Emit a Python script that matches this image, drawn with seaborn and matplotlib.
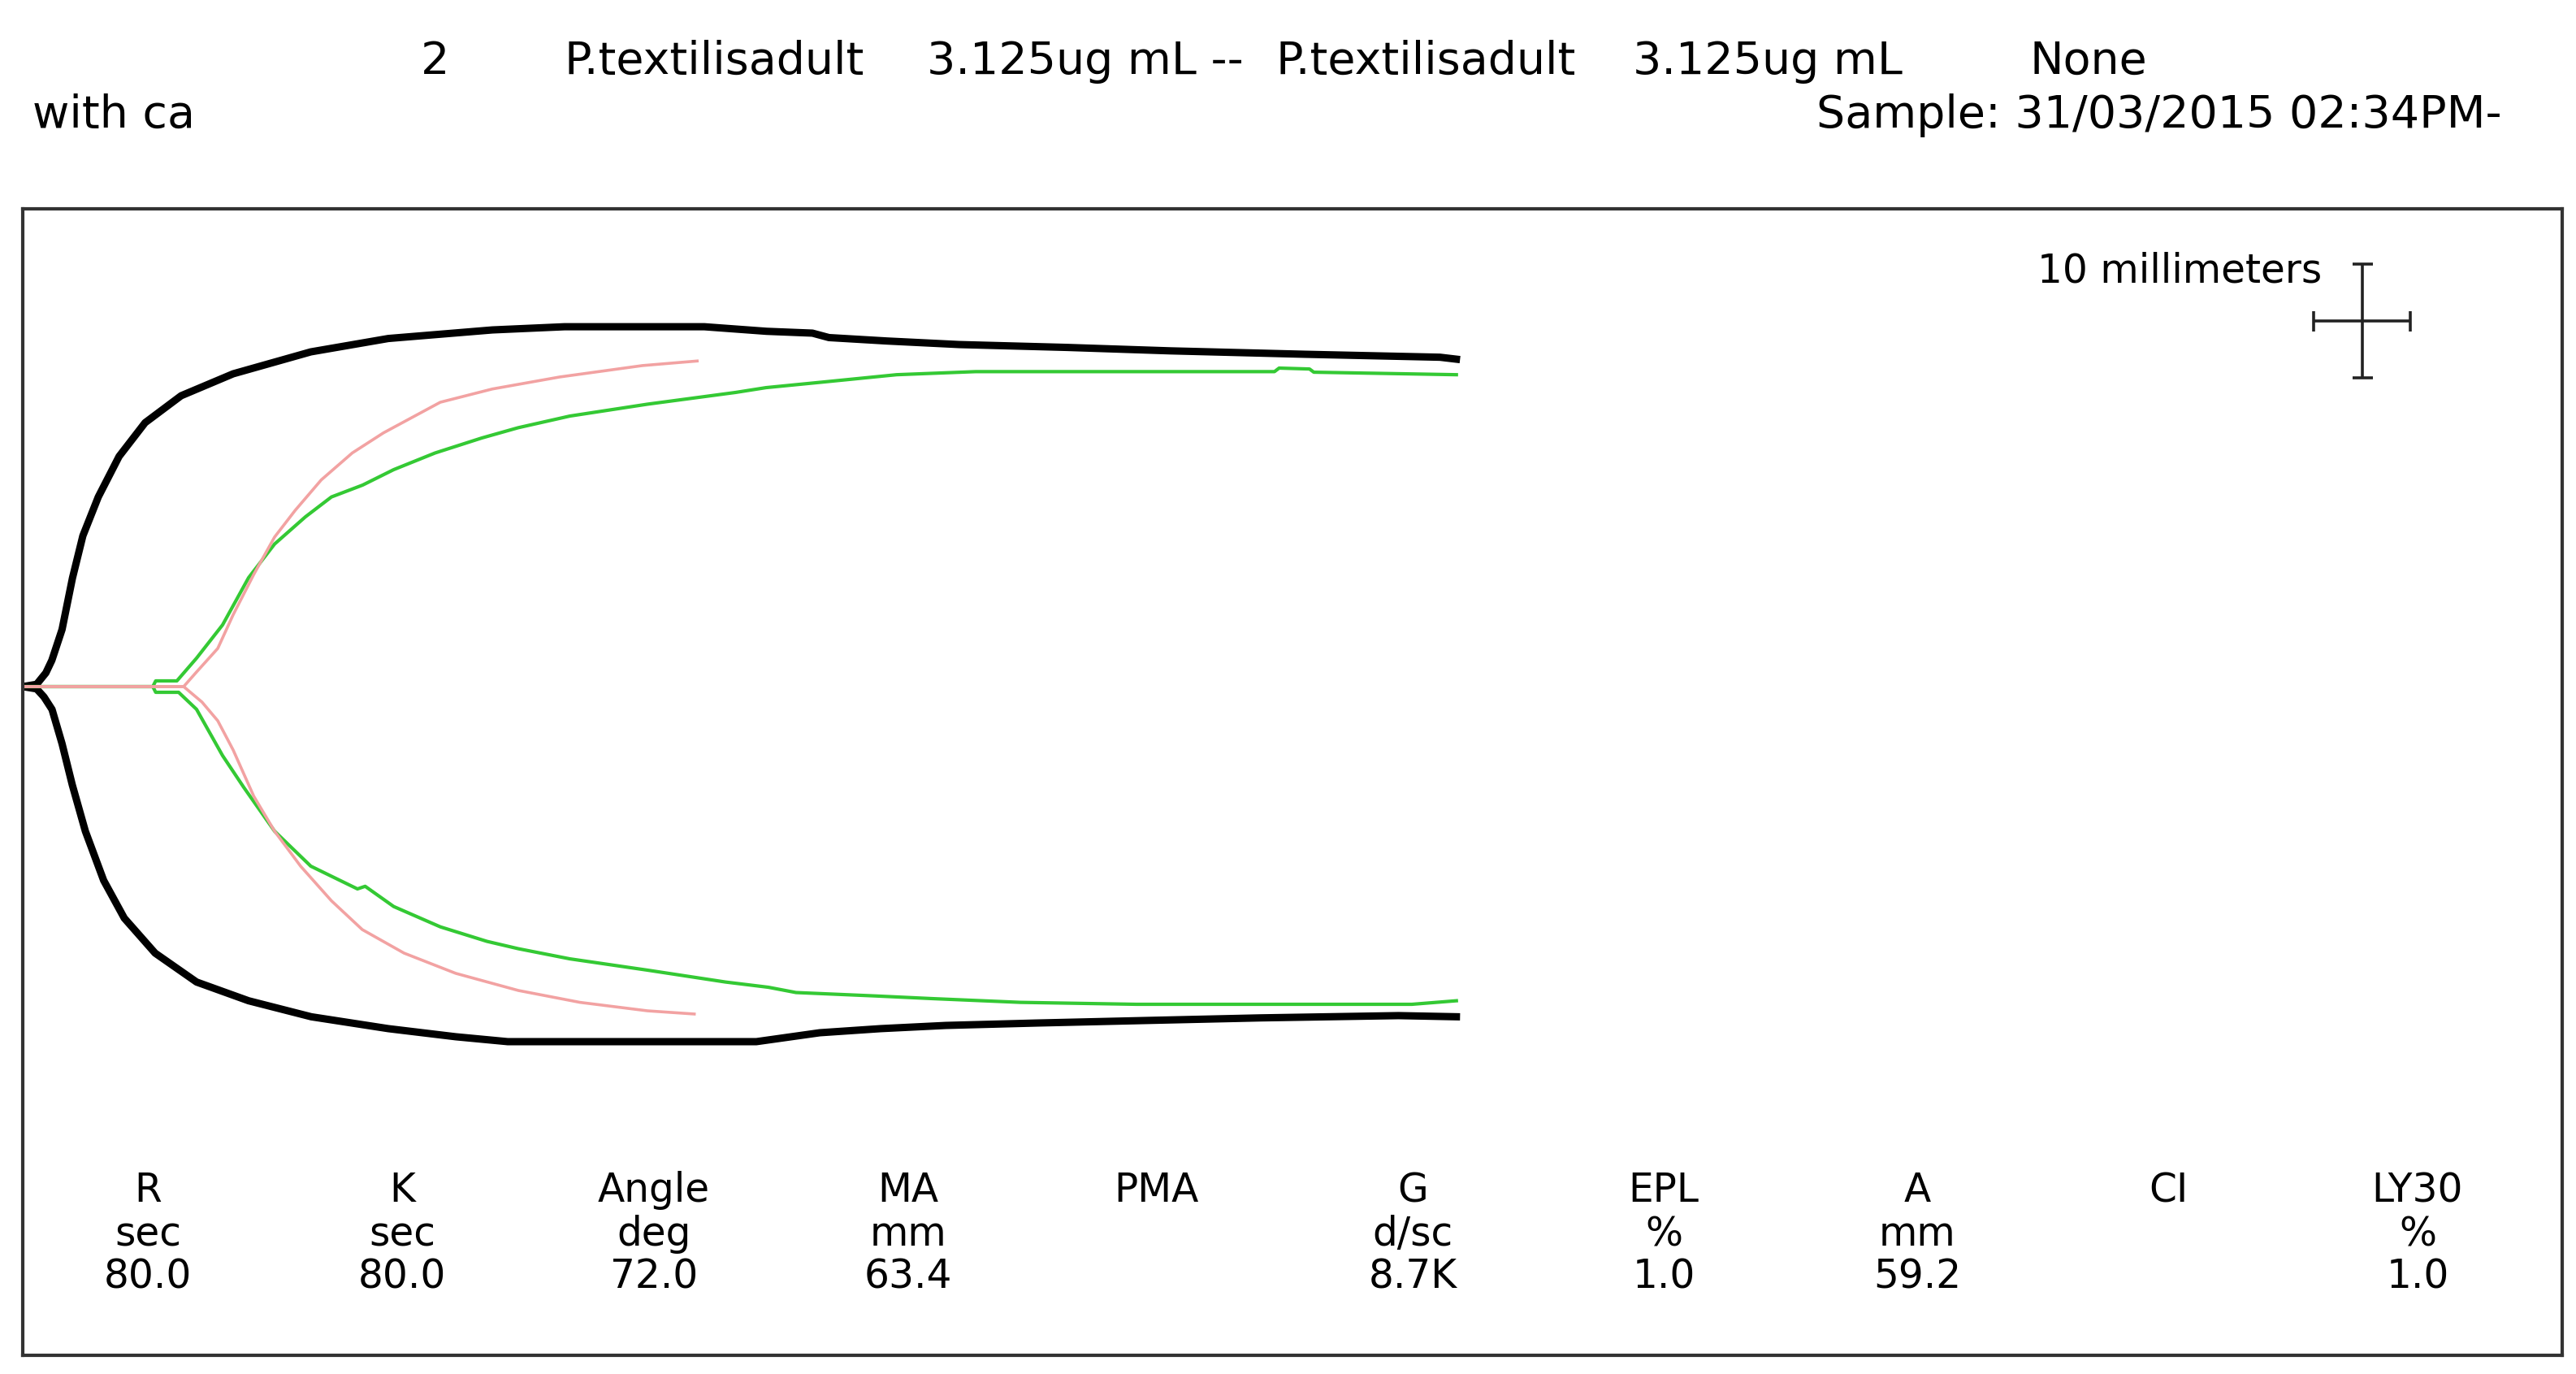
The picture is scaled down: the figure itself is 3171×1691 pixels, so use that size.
import pandas as pd
import numpy as np
import matplotlib
matplotlib.use("Agg")
import matplotlib.pyplot as plt
import seaborn as sns

# TEG tracing: time (min) vs amplitude (mm), upper and lower branch of each trace

black_top_t = [0, 0.72, 1.2, 1.51, 2.04, 2.58, 3.12, 3.92, 5.0, 6.35, 8.22, 10.92, 14.95, 18.97,
               24.37, 28.12, 35.37, 38.6, 40.98, 41.84, 44.86, 48.6, 54.17, 59.53, 66.53, 73.55, 74.4]
black_top_a = [0, 0.2, 1.2, 2.3, 5.0, 9.5, 13.2, 16.6, 20.15, 23.1, 25.46, 27.38, 29.3, 30.47,
               31.22, 31.5, 31.5, 31.1, 30.94, 30.55, 30.25, 29.94, 29.69, 29.39, 29.09, 28.83, 28.66]
black_bot_t = [0, 0.72, 1.1, 1.52, 2.04, 2.57, 3.25, 4.2, 5.27, 6.87, 9.02, 11.72, 14.97, 18.97,
               22.47, 25.17, 38.07, 41.36, 44.52, 47.9, 52.6, 58.2, 64.2, 71.4, 74.4]
black_bot_a = [0, -0.2, -0.9, -2.0, -5.0, -8.6, -12.66, -16.97, -20.27, -23.33, -25.86, -27.5, -28.9, -29.94,
               -30.65, -31.08, -31.08, -30.3, -29.94, -29.66, -29.45, -29.23, -29.0, -28.8, -28.9]

green_top_t = [0, 6.75, 6.9, 8.0, 9.02, 10.37, 11.72, 13.07, 14.67, 16.02, 17.64, 19.25, 21.4, 23.82,
               25.71, 28.39, 32.42, 37.0, 38.58, 41.6, 45.35, 49.45, 64.96, 65.2, 66.78, 67.0, 74.4]
green_top_a = [0, 0, 0.5, 0.5, 2.49, 5.4, 9.53, 12.48, 14.86, 16.6, 17.64, 18.99, 20.45, 21.76,
               22.66, 23.68, 24.72, 25.75, 26.17, 26.67, 27.3, 27.57, 27.57, 27.88, 27.8, 27.52, 27.3]
green_bot_t = [0, 6.75, 6.9, 8.09, 9.02, 10.37, 11.47, 13.07, 14.95, 17.37, 17.77, 19.25, 21.67, 24.09,
               25.71, 28.39, 32.42, 36.47, 38.7, 40.13, 44.27, 47.18, 51.77, 57.8, 72.09, 74.4]
green_bot_a = [0, 0, -0.5, -0.5, -1.99, -6.04, -8.82, -12.66, -15.72, -17.71, -17.48, -19.25, -21.03, -22.3,
               -22.94, -23.83, -24.82, -25.86, -26.32, -26.78, -27.08, -27.31, -27.64, -27.81, -27.81, -27.5]

pink_top_t = [0, 8.35, 9.02, 10.12, 10.92, 11.99, 13.07, 14.14, 15.49, 17.1, 18.72, 21.67, 24.37, 27.86, 32.16, 35.0]
pink_top_a = [0, 0, 1.28, 3.34, 6.29, 9.82, 13.09, 15.43, 18.09, 20.45, 22.21, 24.89, 26.05, 27.1, 28.1, 28.5]
pink_bot_t = [0, 8.35, 9.3, 10.12, 10.92, 11.99, 13.07, 14.42, 16.02, 17.62, 19.79, 22.47, 25.72, 28.92, 32.42, 34.85]
pink_bot_a = [0, 0, -1.35, -2.99, -5.55, -9.6, -12.66, -15.72, -18.75, -21.27, -23.33, -25.1, -26.6, -27.64, -28.38, -28.66]

# parameter table
param_names = ["R", "K", "Angle", "MA", "PMA", "G", "EPL", "A", "CI", "LY30"]
param_units = ["sec", "sec", "deg", "mm", "", "d/sc", "%", "mm", "", "%"]
param_values = ["80.0", "80.0", "72.0", "63.4", "", "8.7K", "1.0", "59.2", "", "1.0"]

plt.rcParams["font.family"] = ["DejaVu Sans"]

W, H = 3171, 1691
fig = plt.figure(figsize=(W / 100, H / 100), dpi=100)
fig.patch.set_facecolor("white")

# box of the tracing, in pixels
left, right, top, bottom = 28, 3154, 257, 1668
ax = fig.add_axes([left / W, (H - bottom) / H, (right - left) / W, (bottom - top) / H])

def branch(t, a, name):
    return pd.DataFrame({"t": t, "amp": a, "branch": name})

traces = [
    ("black", "black", 6.5, [branch(black_top_t, black_top_a, "top"), branch(black_bot_t, black_bot_a, "bot")]),
    ("green", "#34c934", 3.0, [branch(green_top_t, green_top_a, "top"), branch(green_bot_t, green_bot_a, "bot")]),
    ("pink", "#f2a2a2", 2.6, [branch(pink_top_t, pink_top_a, "top"), branch(pink_bot_t, pink_bot_a, "bot")]),
]
for name, col, lw, parts in traces:
    df = pd.concat(parts, ignore_index=True)
    sns.lineplot(data=df, x="t", y="amp", units="branch", estimator=None, sort=False,
                 color=col, linewidth=lw, ax=ax, legend=False)

# scale cross: 10 mm each way (5 min horizontally at 2 mm/min)
ax.errorbar([121.4], [32.0], xerr=2.5, yerr=5.0, color="#222222", lw=2.6,
            capsize=9, capthick=2.6)

px_per_min = 23.72
px_per_mm = 14.06
baseline = 845
ax.set_xlim(0, (right - left) / px_per_min)
ax.set_ylim((baseline - bottom) / px_per_mm, (baseline - top) / px_per_mm)
ax.set_xticks([])
ax.set_yticks([])
ax.set_xlabel("")
ax.set_ylabel("")
for s in ax.spines.values():
    s.set_color("#333333")
    s.set_linewidth(3.0)

def ftext(x, y, s, **kw):
    fig.text(x / W, 1 - y / H, s, va="baseline", color="black", **kw)

# header
ftext(536, 91, "2", ha="center", fontsize=40)
ftext(695, 91, "P.textilisadult", ha="left", fontsize=40)
ftext(1141, 91, "3.125ug mL --", ha="left", fontsize=40)
ftext(1571, 91, "P.textilisadult", ha="left", fontsize=40)
ftext(2010, 91, "3.125ug mL", ha="left", fontsize=40)
ftext(2499, 91, "None", ha="left", fontsize=40)
ftext(40, 157, "with ca", ha="left", fontsize=40)
ftext(3080, 157, "Sample: 31/03/2015 02:34PM-", ha="right", fontsize=40)

ftext(2858, 347, "10 millimeters", ha="right", fontsize=35)

col_x = [182, 495, 805, 1118, 1423, 1739, 2048, 2360, 2669, 2976]
for cx, n, u, v in zip(col_x, param_names, param_units, param_values):
    ftext(cx, 1479, n, ha="center", fontsize=35)
    ftext(cx, 1533, u, ha="center", fontsize=35)
    ftext(cx, 1586, v, ha="center", fontsize=35)

fig.savefig("out.png", dpi=100, facecolor="white")
